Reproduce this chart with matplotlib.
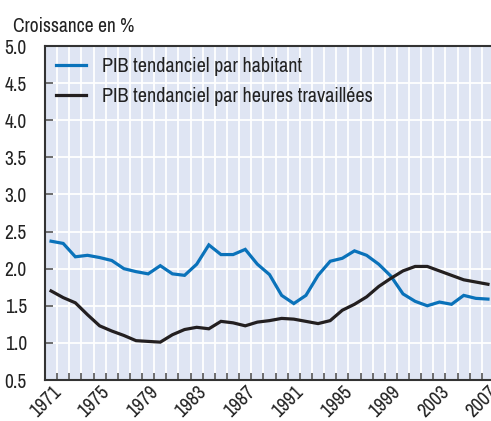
import matplotlib
matplotlib.use('Agg')
import matplotlib.pyplot as plt
import numpy as np

plt.rcParams['font.family'] = ['Archivo Narrow', 'DejaVu Sans']

# Data
years = list(range(1971, 2008))
pib_habitant = [2.37, 2.34, 2.16, 2.18, 2.15, 2.11, 2.00, 1.96, 1.93, 2.04,
                1.93, 1.91, 2.06, 2.32, 2.19, 2.19, 2.26, 2.06, 1.92, 1.64,
                1.53, 1.64, 1.91, 2.10, 2.14, 2.24, 2.18, 2.06, 1.90, 1.66,
                1.56, 1.50, 1.55, 1.52, 1.64, 1.60, 1.59]
pib_heures = [1.70, 1.61, 1.54, 1.38, 1.23, 1.16, 1.10, 1.03, 1.02, 1.01,
              1.11, 1.18, 1.21, 1.19, 1.29, 1.27, 1.23, 1.28, 1.30, 1.33,
              1.32, 1.29, 1.26, 1.30, 1.44, 1.52, 1.62, 1.76, 1.87, 1.97,
              2.03, 2.03, 1.97, 1.91, 1.85, 1.82, 1.79]
label_years = list(range(1971, 2008, 4))
y_ticks = [0.5, 1.0, 1.5, 2.0, 2.5, 3.0, 3.5, 4.0, 4.5, 5.0]

blue = '#0a72ba'
dark = '#231f20'
bg = '#dfe5f3'
frame = '#333333'

fig = plt.figure(figsize=(4.91, 4.21), dpi=100)
ax = fig.add_axes([45 / 491, 41 / 421, 446 / 491, 334 / 421])
ax.set_facecolor(bg)

ax.plot(years, pib_habitant, color=blue, lw=2.3, label='PIB tendanciel par habitant',
        solid_joinstyle='miter')
ax.plot(years, pib_heures, color=dark, lw=2.3, label='PIB tendanciel par heures travaillées',
        solid_joinstyle='miter')

ax.set_xlim(1970.5, 2007.25)
ax.set_ylim(0.5, 5.0)

# grid: white vertical lines between years, horizontal at each tick
ax.set_xticks(label_years)
ax.set_xticks(np.arange(1971.5, 2007, 1.0), minor=True)
ax.set_yticks(y_ticks)
ax.set_yticklabels([f'{v:.1f}' for v in y_ticks])
ax.grid(which='minor', axis='x', color='white', lw=1.3)
ax.grid(which='major', axis='y', color='white', lw=1.3)
ax.set_axisbelow(True)

ax.tick_params(axis='x', which='major', length=0, labelsize=14, pad=2,
               labelcolor='#222222')
ax.tick_params(axis='x', which='minor', direction='in', length=5, width=1.2,
               color='#555555')
ax.tick_params(axis='y', direction='in', length=6, width=1.2, color='#555555',
               labelsize=14, pad=13, labelcolor='#222222')
for lab in ax.get_xticklabels():
    lab.set_rotation(45)
    lab.set_ha('right')
    lab.set_rotation_mode('anchor')

for side in ['left', 'bottom', 'top']:
    ax.spines[side].set_color(frame)
    ax.spines[side].set_linewidth(1.5)
ax.spines['right'].set_visible(False)

leg = ax.legend(loc='upper left', frameon=False, fontsize=14.5, handlelength=1.5,
                handletextpad=0.8, labelspacing=0.55, borderaxespad=0.15,
                bbox_to_anchor=(0.0, 1.0))
for t in leg.get_texts():
    t.set_color('#222222')

fig.text(13 / 491, 1 - 32 / 421, 'Croissance en %', fontsize=14, color='#222222',
         va='baseline', ha='left')

fig.savefig('out.png', dpi=100)
